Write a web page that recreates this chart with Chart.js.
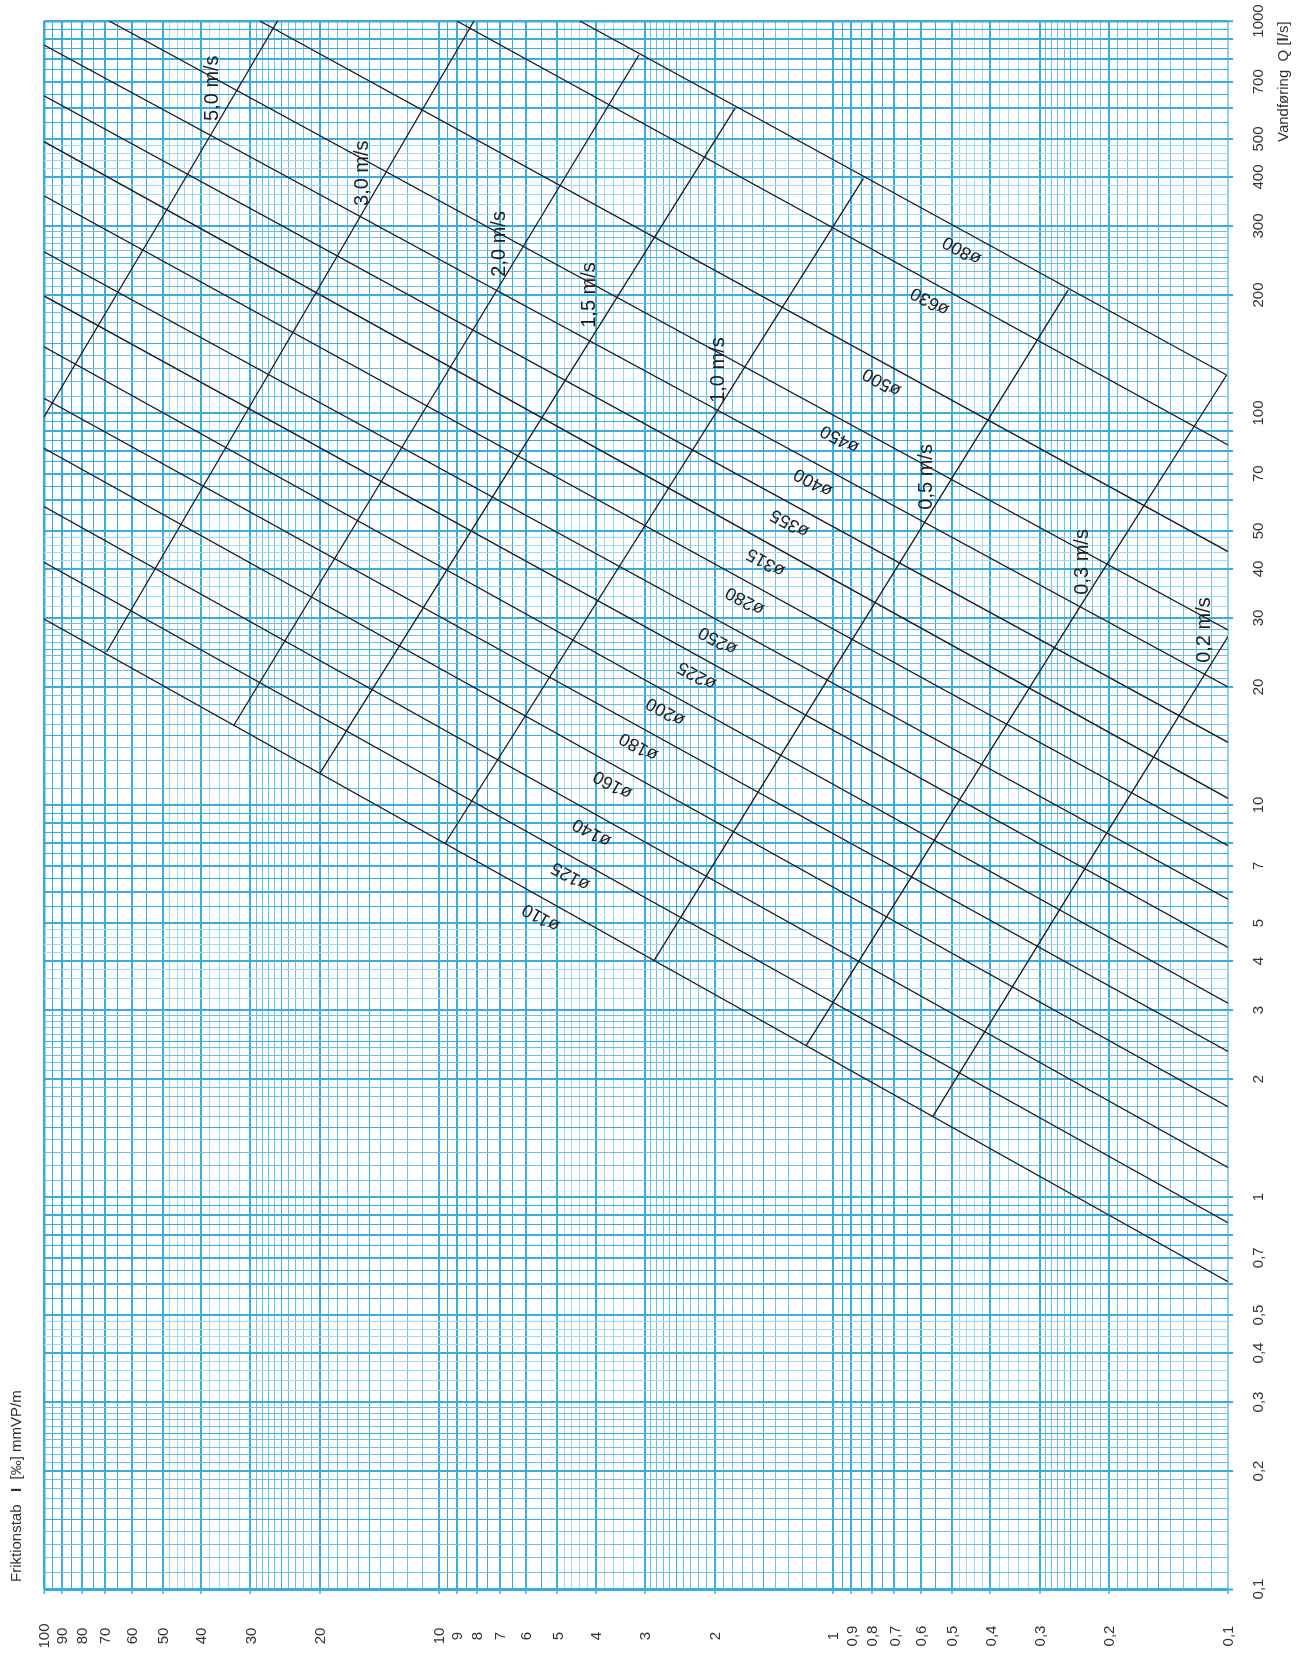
<!DOCTYPE html>
<html>
<head>
<meta charset="utf-8">
<script src="https://cdn.jsdelivr.net/npm/chart.js@4.4.1/dist/chart.umd.min.js"></script>
<style>
  html, body { margin: 0; padding: 0; background: #fff; }
  #c { display: block; }
</style>
</head>
<body>
<canvas id="c" width="1308" height="1656"></canvas>
<script>
// === Axis ticks ===
const I_TICKS = [100, 90, 80, 70, 60, 50, 40, 30, 20, 10, 9, 8, 7, 6, 5, 4, 3, 2, 1, 0.9, 0.8, 0.7, 0.6, 0.5, 0.4, 0.3, 0.2, 0.1];
const Q_TICKS = [1000, 700, 500, 400, 300, 200, 100, 70, 50, 40, 30, 20, 10, 7, 5, 4, 3, 2, 1, 0.7, 0.5, 0.4, 0.3, 0.2, 0.1];

// === Pipe lines (friction I [‰] vs flow Q [l/s]) ===
const PIPES = ["ø110", "ø125", "ø140", "ø160", "ø180", "ø200", "ø225", "ø250", "ø280", "ø315", "ø355", "ø400", "ø450", "ø500", "ø630", "ø800"];
const PIPE_I_START = [100, 100, 100, 100, 100, 100, 100, 100, 100, 100, 100, 100, 68.4, 28.4, 9.0, 4.39];
const PIPE_Q_START = [29.8, 41.6, 57.7, 81.3, 109, 147.6, 198.9, 257.9, 358.3, 492.2, 644.8, 868.5, 1000, 1000, 1000, 1000];
const PIPE_I_END = [0.1, 0.1, 0.1, 0.1, 0.1, 0.1, 0.1, 0.1, 0.1, 0.1, 0.1, 0.1, 0.1, 0.1, 0.1, 0.1008];
const PIPE_Q_END = [0.608, 0.86, 1.19, 1.70, 2.35, 3.12, 4.33, 5.75, 7.87, 10.4, 14.45, 20.0, 27.95, 44.3, 82.9, 125];
const PIPE_LABEL_I = [5.5, 4.63, 4.09, 3.62, 3.11, 2.66, 2.215, 1.96, 1.674, 1.481, 1.288, 1.123, 0.962, 0.753, 0.569, 0.472];

// === Velocity lines ===
const SPEEDS = ["5,0 m/s", "3,0 m/s", "2,0 m/s", "1,5 m/s", "1,0 m/s", "0,5 m/s", "0,3 m/s", "0,2 m/s"];
const SPEED_I = [[100, 48.9, 25.6], [69.4, 20.97, 8.14], [33.0, 3.108], [20.0, 1.775], [9.62, 0.839], [2.847, 0.254], [1.173, 0.237, 0.1008], [0.560, 0.203, 0.1]];
const SPEED_Q = [[97.7, 329.5, 1000], [24.56, 194.2, 1000], [16.0, 819], [12.04, 598.8], [8.0, 396.9], [4.01, 206], [2.43, 32.05, 125], [1.604, 8.48, 26.9]];
const SPEED_LABEL_I = [37.5, 15.6, 7.03, 4.16, 1.949, 0.582, 0.2344, 0.1144];
const SPEED_LABEL_Q = [674, 409, 270, 200, 128.7, 68.7, 41.7, 27.95];

// === Log paper grid ===
const MANTISSAS = [1, 1.1, 1.2, 1.3, 1.4, 1.5, 1.6, 1.7, 1.8, 1.9, 2, 2.1, 2.2, 2.3, 2.4, 2.5, 2.6, 2.7, 2.8, 2.9,
  3, 3.2, 3.4, 3.6, 3.8, 4, 4.2, 4.4, 4.6, 4.8, 5, 5.5, 6, 6.5, 7, 7.5, 8, 8.5, 9, 9.5];

const BLUE = "#3aace2";
const FONT = '"Liberation Sans", Arial, sans-serif';

function gridValues(min, max) {
  const out = [];
  for (let e = Math.round(Math.log10(min)); e < Math.round(Math.log10(max)); e++) {
    const p = Math.pow(10, e);
    MANTISSAS.forEach(m => out.push(+(m * p).toPrecision(6)));
  }
  out.push(max);
  return out;
}

function kind(v) {
  const e = Math.floor(Math.log10(v) + 1e-9);
  const m = Math.round(v / Math.pow(10, e) * 10) / 10;
  if (Number.isInteger(m)) return "major";
  if (m >= 5 || m === 1.5 || m === 2.5) return "mid";
  if (m < 3) return "sub";
  return "minor";
}

function gridColor(ctx, edgeVal) {
  const v = ctx.tick.value;
  if (v === edgeVal) return "#8fcff0";
  const k = kind(v);
  if (k === "major" || k === "mid") return BLUE;
  if (k === "sub") return "#6ac0e9";
  return "#a3d8f2";
}
function gridWidth(ctx, edges) {
  const v = ctx.tick.value;
  if (edges[v]) return edges[v];
  return kind(v) === "major" ? 2 : 1;
}

function fmt(v) { return String(v).replace(".", ","); }

function drawRuns(ctx, runs, x, y) {
  ctx.save();
  ctx.translate(x, y);
  ctx.rotate(-Math.PI / 2);
  ctx.textAlign = "left";
  ctx.textBaseline = "middle";
  let pos = 0;
  runs.forEach(([txt, bold]) => {
    ctx.font = (bold ? "bold " : "") + "15px " + FONT;
    ctx.fillText(txt, pos, 0);
    pos += ctx.measureText(txt).width;
  });
  ctx.restore();
}

const overlay = {
  id: "overlay",
  afterDatasetsDraw(chart) {
    const { ctx, scales: { x, y } } = chart;
    ctx.save();
    ctx.fillStyle = "#1c1c1c";
    ctx.textAlign = "center";
    ctx.textBaseline = "middle";

    // pipe labels, upside down along each line
    ctx.font = "18px " + FONT;
    PIPES.forEach((name, i) => {
      const x0 = x.getPixelForValue(PIPE_I_START[i]), y0 = y.getPixelForValue(PIPE_Q_START[i]);
      const x1 = x.getPixelForValue(PIPE_I_END[i]), y1 = y.getPixelForValue(PIPE_Q_END[i]);
      const a = Math.atan2(y1 - y0, x1 - x0);
      const lx = x.getPixelForValue(PIPE_LABEL_I[i]);
      const ly = y0 + (lx - x0) * (y1 - y0) / (x1 - x0);
      ctx.save();
      ctx.translate(lx, ly + 20);
      ctx.rotate(a + Math.PI);
      ctx.fillText(name, 0, 0);
      ctx.restore();
    });

    // velocity labels
    ctx.font = "20px " + FONT;
    SPEEDS.forEach((name, i) => {
      ctx.save();
      ctx.translate(x.getPixelForValue(SPEED_LABEL_I[i]), y.getPixelForValue(SPEED_LABEL_Q[i]));
      ctx.rotate(-Math.PI / 2);
      ctx.fillText(name, 0, 0);
      ctx.restore();
    });

    // tick labels
    ctx.fillStyle = "#333";
    ctx.font = "15px " + FONT;
    I_TICKS.forEach(v => {
      ctx.save();
      ctx.translate(x.getPixelForValue(v) + 1, 1636);
      ctx.rotate(-Math.PI / 2);
      ctx.fillText(fmt(v), 0, 0);
      ctx.restore();
    });
    Q_TICKS.forEach(v => {
      ctx.save();
      ctx.translate(1259, y.getPixelForValue(v));
      ctx.rotate(-Math.PI / 2);
      ctx.fillText(fmt(v), 0, 0);
      ctx.restore();
    });

    // axis titles
    drawRuns(ctx, [["Friktionstab   ", false], ["I", true], ["  [‰] mmVP/m", false]], 17, 1582);
    drawRuns(ctx, [["Vandføring  Q [", false], ["l", true], ["/s]", false]], 1284, 142);
    ctx.restore();
  }
};

const datasets = [];
PIPES.forEach((name, i) => {
  datasets.push({
    label: name,
    data: [{ x: PIPE_I_START[i], y: PIPE_Q_START[i] }, { x: PIPE_I_END[i], y: PIPE_Q_END[i] }],
    borderColor: "#1a1a1a",
    borderWidth: 1.3,
    pointRadius: 0,
    tension: 0,
  });
});
SPEEDS.forEach((name, i) => {
  datasets.push({
    label: name,
    data: SPEED_I[i].map((v, j) => ({ x: v, y: SPEED_Q[i][j] })),
    borderColor: "#1a1a1a",
    borderWidth: 1.3,
    pointRadius: 0,
    tension: 0,
  });
});

new Chart(document.getElementById("c"), {
  type: "line",
  data: { datasets },
  options: {
    responsive: false,
    animation: false,
    devicePixelRatio: 1,
    layout: { padding: { left: 44, top: 21, right: 0, bottom: 0 } },
    plugins: { legend: { display: false }, tooltip: { enabled: false } },
    scales: {
      x: {
        type: "logarithmic",
        reverse: true,
        min: 0.1,
        max: 100,
        position: "bottom",
        afterBuildTicks: s => { s.ticks = gridValues(0.1, 100).map(v => ({ value: v })); },
        afterFit: s => { s.height = 67; },
        ticks: { display: false },
        border: { display: false },
        grid: {
          color: c => gridColor(c, 0.1),
          lineWidth: c => gridWidth(c, { 100: 2.5, 0.1: 2 }),
          drawTicks: true,
          tickLength: 5,
          tickColor: c => kind(c.tick.value) === "major" ? BLUE : "rgba(0,0,0,0)",
          tickWidth: 1.5,
        },
      },
      y: {
        type: "logarithmic",
        min: 0.1,
        max: 1000,
        position: "right",
        afterBuildTicks: s => { s.ticks = gridValues(0.1, 1000).map(v => ({ value: v })); },
        afterFit: s => { s.width = 80; },
        ticks: { display: false },
        border: { display: false },
        grid: {
          color: c => gridColor(c, -1),
          lineWidth: c => gridWidth(c, { 1000: 2.5, 0.1: 3 }),
          drawTicks: true,
          tickLength: 5,
          tickColor: c => kind(c.tick.value) === "major" ? BLUE : "rgba(0,0,0,0)",
          tickWidth: 2,
        },
      },
    },
  },
  plugins: [overlay],
});
</script>
</body>
</html>
